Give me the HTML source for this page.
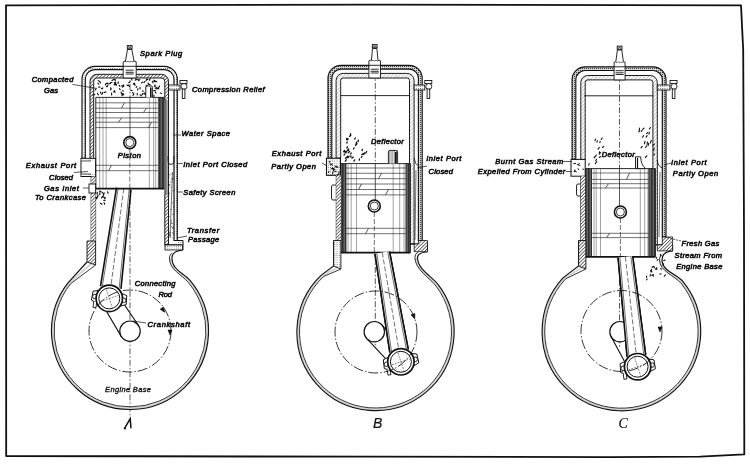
<!DOCTYPE html><html><head><meta charset="utf-8"><style>
html,body{margin:0;padding:0;background:#fff;width:750px;height:464px;overflow:hidden}
svg{display:block;will-change:transform}
text{font-family:"Liberation Sans",sans-serif;font-style:italic;fill:#111;stroke:#111;stroke-width:0.6}
text.big{stroke-width:0.2}
text.thin{stroke-width:0.35}
text.serif{font-family:"Liberation Serif",serif}
</style></head><body>
<svg width="750" height="464" viewBox="0 0 750 464" stroke="#111" fill="none">
<defs stroke="none">
<pattern id="hatch" width="2.4" height="2.4" patternUnits="userSpaceOnUse" patternTransform="rotate(45)"><rect width="2.4" height="2.4" fill="#fff"/><rect width="0.7" height="2.4" fill="#333"/></pattern>
<pattern id="hatchD" width="2" height="2" patternUnits="userSpaceOnUse"><rect width="2" height="2" fill="#ddd"/><rect width="1.1" height="1.1" fill="#444"/></pattern>
<pattern id="hatchW" width="2.6" height="2.6" patternUnits="userSpaceOnUse" patternTransform="rotate(45)"><rect width="2.6" height="2.6" fill="#fff"/><rect width="0.5" height="2.6" fill="#999"/></pattern>
<pattern id="vh" width="1.8" height="2" patternUnits="userSpaceOnUse"><rect width="1.8" height="2" fill="#fff"/><rect width="0.6" height="2" fill="#444"/></pattern>
<pattern id="hatch2" width="2.6" height="2.6" patternUnits="userSpaceOnUse" patternTransform="rotate(-45)"><rect width="2.6" height="2.6" fill="#fff"/><rect width="0.8" height="2.6" fill="#555"/></pattern>
<pattern id="hatchL" width="2.2" height="2.2" patternUnits="userSpaceOnUse"><rect width="2.2" height="2.2" fill="#fff"/><rect width="0.9" height="0.9" fill="#555"/></pattern>
<pattern id="dark" width="1.5" height="2" patternUnits="userSpaceOnUse"><rect width="1.5" height="2" fill="#777"/><rect width="0.8" height="2" fill="#222"/></pattern>
<pattern id="darkL" width="1.5" height="2" patternUnits="userSpaceOnUse"><rect width="1.5" height="2" fill="#bbb"/><rect width="0.7" height="2" fill="#555"/></pattern>
</defs>
<path d="M6 5.3L370 4.6L741 5.3L743.2 50L744 230L744.3 454.3L700 456.6L610 457.1L370 456.7L6.2 456Z" stroke-width="1.8" fill="none" stroke-linejoin="round"/>
<path d="M82 158.4V79.3A13 13 0 0 1 95 66.3H164.3A13 13 0 0 1 177.3 79.3V240.5H174V79.3A9.7 9.7 0 0 0 164.3 69.6H95A9.7 9.7 0 0 0 85.3 79.3V158.4Z" stroke-width="1.15" fill="url(#hatchL)" /><path d="M90 176.5V81.3A7 7 0 0 1 97 74.3H161.5A7 7 0 0 1 168.5 81.3V245H164.8V81.3A3.3 3.3 0 0 0 161.5 78H97A3.3 3.3 0 0 0 93.7 81.3V176.5Z" stroke-width="0.95" fill="url(#hatch)" /><line x1="130" y1="49.3" x2="130" y2="416" stroke-width="0.7" stroke-dasharray="6 2 1.5 2"/><path d="M123.2 78V61.8q1.62 -1.2 3.25 0q1.62 -1.2 3.25 0q1.62 -1.2 3.25 0q1.62 -1.2 3.25 0V78Z" stroke-width="0.9" fill="#fff" /><line x1="123.2" y1="66.3" x2="136.2" y2="66.3" stroke-width="0.9" /><line x1="125.7" y1="70.2" x2="133.7" y2="70.2" stroke-width="0.9" /><line x1="125.7" y1="72.3" x2="133.7" y2="72.3" stroke-width="0.9" /><line x1="125.7" y1="74" x2="133.7" y2="74" stroke-width="0.9" /><path d="M125.4 61.3L127.5 49.5h4.4L134 61.3" stroke-width="0.9" fill="#fff" /><rect x="127.3" y="45.6" width="4.8" height="3.2" stroke-width="0.9" fill="#fff" /><line x1="127.7" y1="46.1" x2="131.7" y2="48.3" stroke-width="0.6" /><line x1="131.7" y1="46.1" x2="127.7" y2="48.3" stroke-width="0.6" /><rect x="168.5" y="85" width="11.5" height="5" stroke-width="0.9" fill="url(#hatchL)" /><rect x="180" y="80.5" width="7" height="3" stroke-width="0.9" fill="#fff" /><circle cx="184" cy="86.5" r="3" stroke-width="0.9" fill="#fff" /><rect x="182.3" y="89" width="2.6" height="9.5" stroke-width="0.9" fill="#fff" /><path d="M110.56 87.75l0.64 1.47M136.74 79.61l1.84 0.08M112.01 82.48l-1.47 0.02M150.96 86.6l-0.49 1.04M137.35 93.26l-0.13 1.74M139.82 79.59l-1.15 1.1M114.84 79.03l-1.34 0.6M143.02 93.44l-1.2 1.5M121.16 92.12l0.34 1.91M153.82 80.16l1.11 0.5M159.67 85.91l-0.5 1.2M128.74 85.06l0.72 1.41M133.94 93.87l-1.04 1.62M152.31 95.35l-0.6 1M152.59 94.9l-1.5 0.46M142.68 82.09l-1.36 0.79M113.73 79.58l-1.78 0.88M100.47 92.11l0.32 1.11M114.34 91.57l-0.96 0.41M135.98 79.26l-0.84 1.03M153.96 95.17l-0.03 2M115.4 79.81l-0.32 0.98M107.82 85.43l-0.39 1.09M97.36 93.25l1.08 1.63M155.02 84.92l0.19 1.51M137.96 88.63l-0.3 1.59M157.99 87.12l0.37 1.68M110.54 83.62l-1.52 0.11M131.52 78.69l0.42 1.52M95.85 88.97l-0.43 0.97M136.85 86.43l-0.72 1.14M142.22 91.05l1.06 0.07M140.13 94.88l1.03 1.03M134.51 83.94l0.54 1.19M119.42 88.63l0.81 1.12M146.63 78.96l-0.37 1.69M115.43 82.28l-1.01 0.72M107.15 85.9l-0.64 0.9M116.23 84.17l-1.25 0.72M152.25 81.38l0.81 1.44M154.23 86.17l0.85 0.73M130.25 81.74l-1.51 1.05M106.89 83.24l-1.35 0.93M148.92 84.37l1.19 0.51M148.09 83.11l0.66 1.26M122.83 85.46l-1.12 0.29M94.81 94.54l-1.85 0.73M123.82 94.65l-1.19 0.28M144.82 92.72l-0.74 1.32M114.01 84.3l0.81 0.7M134.24 83.38l-0.86 0.59M155.49 90.29l-1.84 0.45M155.23 88.31l1.74 0.07M106.1 83.6l-0.75 1.33M122.43 94.46l-0.46 1.26M111.54 93.15l0.13 1.78M118.25 81.85l-0.2 1.81M106.06 91.96l-1.75 0.44M150.09 78.63l-0.73 1.71M97.87 83.11l1.02 1.14M123.05 86.54l-0.76 0.65M98.2 80.66l0.99 0.41M160.29 93.03l1.45 0.4M115.82 83.85l0.74 1.47M134.1 84.63l1.1 0.75M102.85 87.94l-0.87 1.07M99.89 81.54l0.62 1.48M147.33 84.96l-1.32 0.95M123.63 84.83l0.02 1.7M122.88 90.3l0.15 1.24M130.67 90.32l1.39 0.32M123.25 93.45l-1.35 0.27M155.11 91.95l0.99 1.07M102.81 92.32l-0.92 1.65M147.99 89.85l-1.05 1.16M101.46 88.49l1.14 0.02M146.77 79.25l1.05 0.31M153.93 81.55l1.84 0.14M102.69 92.85l-0.95 1.57M158.79 88.34l-0.84 0.61M146.3 87.19l-0.69 0.86M145.06 94.39l1.3 0.25M132.57 92.58l0.85 0.81M111.37 88.97l-1 0.97M119.3 85.24l0.64 1.26M100.12 87.01l-1.41 0.12M144.95 81.23l-0.99 1.45M139.99 87.29l0.08 1.64M155.07 81.04l1.67 0.52M156.37 87.29l0.31 1.69M107.06 83.05l1.29 0.93M115.75 82.45l-1.1 1.61M114.47 90.49l0.5 1.79M133.96 83.04l0.79 0.65M126.87 85.01l1.17 0.7" stroke-width="1.1" fill="none" stroke-linecap="round"/><rect x="95.8" y="97.4" width="68.4" height="91.2" stroke-width="0" fill="#fff" stroke="none"/><line x1="95.8" y1="102.8" x2="164.2" y2="102.8" stroke-width="0.7" stroke-opacity="0.85"/><line x1="95.8" y1="108.2" x2="164.2" y2="108.2" stroke-width="0.7" stroke-opacity="0.85"/><line x1="95.8" y1="112.5" x2="164.2" y2="112.5" stroke-width="0.7" stroke-opacity="0.85"/><line x1="95.8" y1="117.9" x2="164.2" y2="117.9" stroke-width="0.7" stroke-opacity="0.85"/><line x1="95.8" y1="122.2" x2="164.2" y2="122.2" stroke-width="0.7" stroke-opacity="0.85"/><line x1="95.8" y1="127.6" x2="164.2" y2="127.6" stroke-width="0.7" stroke-opacity="0.85"/><line x1="95.8" y1="165.3" x2="164.2" y2="165.3" stroke-width="0.7" stroke-opacity="0.85"/><line x1="95.8" y1="170.7" x2="164.2" y2="170.7" stroke-width="0.7" stroke-opacity="0.85"/><line x1="99.7" y1="97.9" x2="99.7" y2="188.1" stroke-width="0.55" stroke-opacity="0.7"/><line x1="103" y1="97.9" x2="103" y2="188.1" stroke-width="0.55" stroke-opacity="0.7"/><line x1="106.2" y1="97.9" x2="106.2" y2="188.1" stroke-width="0.55" stroke-opacity="0.7"/><line x1="149.3" y1="97.9" x2="149.3" y2="188.1" stroke-width="0.55" stroke-opacity="0.7"/><line x1="153.6" y1="97.9" x2="153.6" y2="188.1" stroke-width="0.55" stroke-opacity="0.7"/><line x1="155.7" y1="97.9" x2="155.7" y2="188.1" stroke-width="0.55" stroke-opacity="0.7"/><line x1="124.5" y1="102.8" x2="121.5" y2="108.2" stroke-width="0.7" /><line x1="146.5" y1="108.2" x2="143.5" y2="112.5" stroke-width="0.7" /><line x1="121.5" y1="117.9" x2="118.5" y2="122.2" stroke-width="0.7" /><line x1="151.5" y1="122.2" x2="148.5" y2="127.6" stroke-width="0.7" /><line x1="111.5" y1="165.3" x2="108.5" y2="170.7" stroke-width="0.7" /><rect x="157.9" y="97.4" width="6.3" height="91.2" stroke-width="0" fill="url(#dark)" stroke="none"/><line x1="95.8" y1="97.4" x2="95.8" y2="188.6" stroke-width="0.9" /><line x1="164.2" y1="97.4" x2="164.2" y2="188.6" stroke-width="0.9" /><line x1="95.8" y1="188.6" x2="164.2" y2="188.6" stroke-width="1.7" /><line x1="95.8" y1="97.4" x2="164.2" y2="97.4" stroke-width="0.9" /><line x1="130" y1="97.4" x2="130" y2="136.6" stroke-width="0.7" /><line x1="129.8" y1="148.6" x2="129.8" y2="188.6" stroke-width="0.6" stroke-dasharray="5 2"/><circle cx="129.8" cy="142.6" r="6" stroke-width="1.6" fill="#fff" /><circle cx="129.8" cy="142.6" r="4" stroke-width="0.8" fill="none" /><path d="M145.8 97.4V87.5Q145.8 86 147.3 86H151.1Q152.6 86 152.6 87.5V97.4" stroke-width="0.9" fill="#fff" /><line x1="150.8" y1="87.5" x2="150.8" y2="97.4" stroke-width="1.6" /><path d="M116.51 187.65L100.52 286.15M130.98 189.55L120.95 288.84" stroke-width="1.6" fill="none" /><path d="M118.29 187.88L102.31 286.39M129.2 189.32L119.16 288.6" stroke-width="0.6" fill="none" /><line x1="123.75" y1="188.6" x2="109.3" y2="298.4" stroke-width="0.6" stroke-dasharray="5 2"/><path d="M101.69 303.2L121.37 336.64M116.91 293.6L138.63 325.76" stroke-width="1.1" fill="none" /><circle cx="130" cy="331.2" r="10.2" stroke-width="1.2" fill="#fff" /><path d="M100.3 290.16L93.1 291.23L91.43 300.08L98.47 304.04Z" stroke-width="1.0" fill="#fff" /><circle cx="94.92" cy="296.51" r="2.3" stroke-width="0.9" fill="#fff" /><path d="M120.13 292.76L126.81 295.66L126.13 304.65L118.3 306.64Z" stroke-width="1.0" fill="#fff" /><circle cx="123.68" cy="300.29" r="2.3" stroke-width="0.9" fill="#fff" /><path d="M93.78 301.4L92.99 307.35L95.97 307.74L96.75 301.79" stroke-width="0.9" fill="#fff" /><circle cx="109.3" cy="298.4" r="13.2" stroke-width="1.7" fill="#fff" /><circle cx="109.3" cy="298.4" r="10.5" stroke-width="1.0" fill="none" /><line x1="100.3" y1="301.4" x2="118.3" y2="295.4" stroke-width="0.5" stroke-dasharray="2 1"/><line x1="106.3" y1="289.4" x2="112.3" y2="307.4" stroke-width="0.5" stroke-dasharray="2 1"/><circle cx="130" cy="331" r="41" stroke-width="0.85" fill="none" stroke-dasharray="10 2 1.5 2"/><path d="M161.5 307.6L163.5 312.6L165.5 307.6Z" stroke-width="0.6" fill="#111" transform="rotate(-35 163.5 310.6)"/><path d="M168 330L170 335L172 330Z" stroke-width="0.6" fill="#111" transform="rotate(0 170 333)"/><path d="M91.3 263.5L69.3 283.3A77.2 77.2 0 1 0 189.09 281.32C182.65 273.66 170.7 270 170.7 258" stroke-width="2.0" fill="none" stroke="#d4d4d4"/><path d="M87 262V262L68 282.85A78.5 78.5 0 1 0 190 280.38C183.55 272.74 172 270 172 258Q172 251 183 250" stroke-width="1.15" fill="none" /><path d="M95.6 265L70.6 283.75A75.9 75.9 0 1 0 188.18 282.26C181.76 274.59 169.4 270 169.4 258Q169.4 254 172.4 253" stroke-width="0.85" fill="none" /><rect x="164.6" y="100" width="3.4" height="95" stroke-width="0" fill="url(#darkL)" stroke="none"/><rect x="81" y="158.4" width="14.6" height="18.1" stroke-width="1.0" fill="#fff" /><rect x="81.5" y="158.9" width="13.6" height="2" stroke-width="0" fill="url(#hatchL)" stroke="none"/><rect x="81.5" y="174" width="13.6" height="2" stroke-width="0" fill="url(#hatchL)" stroke="none"/><line x1="81" y1="161" x2="91" y2="161" stroke-width="0.7" /><line x1="81" y1="174" x2="91" y2="174" stroke-width="0.7" /><path d="M91.2 176.5V241M95.6 176.5V241" stroke-width="0.95" fill="none" /><rect x="91.2" y="176.5" width="4.4" height="64.5" stroke-width="0" fill="url(#hatch)" stroke="none"/><rect x="89" y="184" width="6.6" height="9" stroke-width="0.9" fill="#fff" /><path d="M87 241H95.6V265L87 262Z" stroke-width="0.9" fill="url(#hatch)" /><path d="M171.8 220.44l-0.7 0.52M172.33 232.72l0.63 0.06M173.25 214.13l-0.43 0.14M171.11 186.77l-0.09 0.68M169.06 184.74l0.55 0.66M172.45 180.85l-0.38 0.28M171.78 178.62l0.84 0M169.94 184.65l-0.83 0.05M170.3 235.38l-0.09 0.73M169.92 233.99l-0.5 0.73M173.02 190.32l0.2 0.44M169.66 174.43l0.41 0.57M169.02 216.1l0.27 0.48M172.68 202.69l0.35 0.54M172.17 173.88l-0.41 0.03M172.37 227.45l0.79 0.05M170.65 209.34l0.42 0.01M169.81 234.95l0.63 0.45M173.18 234.06l0.27 0.51M171.36 222.74l0.73 0.26M172.59 228.46l0.87 0.1M169.41 193.17l-0.29 0.81M170.53 232.85l-0.08 0.55M170.43 182.07l0.46 0.12M172.1 237.78l0.37 0.21M173.44 206.28l0.15 0.5M171.67 226.19l0.08 0.6M169.25 232.29l0.64 0.07M172.77 178.88l-0.58 0.65M171.84 223.58l0.58 0.2" stroke-width="0.6" fill="none" stroke-linecap="round"/><line x1="172.5" y1="172" x2="170" y2="238" stroke-width="0.6" /><path d="M164.5 244.8H183V250" stroke-width="1.0" fill="none" /><path d="M173.9 240.5H183V245" stroke-width="1.0" fill="url(#hatchL)" /><rect x="165" y="245" width="17.5" height="5" stroke-width="0.8" fill="url(#hatchL)" /><path d="M168.1 156V161Q168.1 164.5 171 164.5Q173.9 164.5 173.9 161V156" stroke-width="0.9" fill="none" /><path d="M102.56 196.6l1.69 0.79M97.08 198.54l-1.03 0.34M103.65 200.25l1.37 0.18M105.44 197.78l-0.75 0.88M99.86 192.66l-0.04 1.92M104.09 202.61l0.62 1.63M98.22 195.37l-0.9 1.47M102.06 192.32l0.81 0.9M100.37 203.14l1.53 1.11M107.55 191.82l0.55 1.38M97.28 197.37l-1.06 0.32M104.16 192.82l-0.46 1.84M99.44 191.12l1.49 0.4M97.21 192.27l0.02 1.92M102.04 196.97l-0.46 0.99M103.96 193.59l-0.66 1.84" stroke-width="1.2" fill="none" stroke-linecap="round"/><line x1="72.3" y1="84.4" x2="97" y2="88.5" stroke-width="0.7" /><line x1="74" y1="172.5" x2="88" y2="171.5" stroke-width="0.7" /><line x1="83" y1="188" x2="89" y2="188" stroke-width="0.7" /><line x1="177" y1="163.8" x2="183" y2="163.3" stroke-width="0.7" /><line x1="177" y1="192" x2="183" y2="192" stroke-width="0.7" /><line x1="177" y1="238" x2="187" y2="236" stroke-width="0.7" /><line x1="173" y1="135" x2="181" y2="135" stroke-width="0.7" /><line x1="133" y1="321" x2="146" y2="323" stroke-width="0.7" /><path d="M328 158.2V78.3A13 13 0 0 1 341 65.3H409.2A13 13 0 0 1 422.2 78.3V240.5H418.4V78.3A9.2 9.2 0 0 0 409.2 69.1H341A9.2 9.2 0 0 0 331.8 78.3V158.2Z" stroke-width="1.15" fill="url(#hatchD)" /><path d="M336.1 158.2V80.4A7 7 0 0 1 343.1 73.4H407.1A7 7 0 0 1 414.1 80.4V244H409.5V80.4A2.4 2.4 0 0 0 407.1 78H343.1A2.4 2.4 0 0 0 340.7 80.4V158.2Z" stroke-width="0.95" fill="url(#hatchW)" /><line x1="375.3" y1="48.3" x2="375.3" y2="348" stroke-width="0.7" stroke-dasharray="6 2 1.5 2"/><path d="M368.9 78V60.8q1.45 -1.2 2.9 0q1.45 -1.2 2.9 0q1.45 -1.2 2.9 0q1.45 -1.2 2.9 0V78Z" stroke-width="0.9" fill="#fff" /><line x1="368.9" y1="65.3" x2="380.5" y2="65.3" stroke-width="0.9" /><line x1="370.7" y1="69.2" x2="378.7" y2="69.2" stroke-width="0.9" /><line x1="370.7" y1="71.3" x2="378.7" y2="71.3" stroke-width="0.9" /><line x1="370.7" y1="73" x2="378.7" y2="73" stroke-width="0.9" /><path d="M371.4 60.3L372.5 48.5h4.4L378 60.3" stroke-width="0.9" fill="#fff" /><rect x="372.3" y="44.6" width="4.8" height="3.2" stroke-width="0.9" fill="#fff" /><line x1="372.7" y1="45.1" x2="376.7" y2="47.3" stroke-width="0.6" /><line x1="376.7" y1="45.1" x2="372.7" y2="47.3" stroke-width="0.6" /><rect x="414.1" y="85" width="10.7" height="5" stroke-width="0.9" fill="url(#hatchL)" /><rect x="424.8" y="80.5" width="7" height="3" stroke-width="0.9" fill="#fff" /><circle cx="428.8" cy="86.5" r="3" stroke-width="0.9" fill="#fff" /><rect x="427.1" y="89" width="2.6" height="9.5" stroke-width="0.9" fill="#fff" /><rect x="340.4" y="163.6" width="70" height="89" stroke-width="0" fill="#fff" stroke="none"/><line x1="340.4" y1="168" x2="410.4" y2="168" stroke-width="0.7" stroke-opacity="0.85"/><line x1="340.4" y1="173.3" x2="410.4" y2="173.3" stroke-width="0.7" stroke-opacity="0.85"/><line x1="340.4" y1="178.7" x2="410.4" y2="178.7" stroke-width="0.7" stroke-opacity="0.85"/><line x1="340.4" y1="184" x2="410.4" y2="184" stroke-width="0.7" stroke-opacity="0.85"/><line x1="340.4" y1="189.5" x2="410.4" y2="189.5" stroke-width="0.7" stroke-opacity="0.85"/><line x1="340.4" y1="194.9" x2="410.4" y2="194.9" stroke-width="0.7" stroke-opacity="0.85"/><line x1="340.4" y1="228.3" x2="410.4" y2="228.3" stroke-width="0.7" stroke-opacity="0.85"/><line x1="340.4" y1="233.7" x2="410.4" y2="233.7" stroke-width="0.7" stroke-opacity="0.85"/><line x1="348" y1="164.1" x2="348" y2="252.1" stroke-width="0.55" stroke-opacity="0.7"/><line x1="351.2" y1="164.1" x2="351.2" y2="252.1" stroke-width="0.55" stroke-opacity="0.7"/><line x1="356.5" y1="164.1" x2="356.5" y2="252.1" stroke-width="0.55" stroke-opacity="0.7"/><line x1="393.2" y1="164.1" x2="393.2" y2="252.1" stroke-width="0.55" stroke-opacity="0.7"/><line x1="399.7" y1="164.1" x2="399.7" y2="252.1" stroke-width="0.55" stroke-opacity="0.7"/><line x1="404" y1="164.1" x2="404" y2="252.1" stroke-width="0.55" stroke-opacity="0.7"/><line x1="381.5" y1="173.3" x2="378.5" y2="178.7" stroke-width="0.7" /><line x1="361.5" y1="184" x2="358.5" y2="189.5" stroke-width="0.7" /><line x1="388.5" y1="189.5" x2="385.5" y2="194.9" stroke-width="0.7" /><line x1="368.5" y1="228.3" x2="365.5" y2="233.7" stroke-width="0.7" /><rect x="340.4" y="163.6" width="6.1" height="89" stroke-width="0" fill="url(#dark)" stroke="none"/><rect x="405.5" y="163.6" width="4.9" height="89" stroke-width="0" fill="url(#dark)" stroke="none"/><line x1="340.4" y1="163.6" x2="340.4" y2="252.6" stroke-width="0.9" /><line x1="410.4" y1="163.6" x2="410.4" y2="252.6" stroke-width="0.9" /><line x1="340.4" y1="252.6" x2="410.4" y2="252.6" stroke-width="1.7" /><line x1="340.4" y1="163.6" x2="410.4" y2="163.6" stroke-width="0.9" /><line x1="375.3" y1="163.6" x2="375.3" y2="200" stroke-width="0.7" /><line x1="374.3" y1="212" x2="374.3" y2="252.6" stroke-width="0.6" stroke-dasharray="5 2"/><circle cx="374.3" cy="206" r="6" stroke-width="1.6" fill="#fff" /><circle cx="374.3" cy="206" r="4" stroke-width="0.8" fill="none" /><path d="M388.4 163.6V151.9Q388.4 150.4 389.9 150.4H396.1Q397.6 150.4 397.6 151.9V163.6" stroke-width="0.9" fill="url(#vh)" /><line x1="395.8" y1="151.9" x2="395.8" y2="163.6" stroke-width="1.6" /><path d="M375.06 253.83L389.87 352.46M389.45 251.37L408.21 349.33" stroke-width="1.6" fill="none" /><path d="M376.83 253.53L391.64 352.16M387.68 251.67L406.43 349.63" stroke-width="0.6" fill="none" /><line x1="382.26" y1="252.6" x2="400.9" y2="361.8" stroke-width="0.6" stroke-dasharray="5 2"/><path d="M407.64 355.84L381.94 324.95M394.16 367.76L366.66 338.45" stroke-width="1.1" fill="none" /><circle cx="374.3" cy="331.7" r="10.2" stroke-width="1.2" fill="#fff" /><path d="M375.06 253.83L389.87 352.46L408.21 349.33L389.45 251.37Z" stroke-width="0" fill="#fff" stroke="none"/><path d="M375.06 253.83L389.87 352.46M389.45 251.37L408.21 349.33" stroke-width="1.6" fill="none" /><path d="M376.83 253.53L391.64 352.16M387.68 251.67L406.43 349.63" stroke-width="0.6" fill="none" /><line x1="382.26" y1="252.6" x2="400.9" y2="361.8" stroke-width="0.6" stroke-dasharray="5 2"/><path d="M389.86 356.58L383.3 359.73L384.32 368.69L392.22 370.38Z" stroke-width="1.0" fill="#fff" /><circle cx="386.61" cy="364.24" r="2.3" stroke-width="0.9" fill="#fff" /><path d="M409.58 353.22L416.82 354.01L418.82 362.8L411.94 367.02Z" stroke-width="1.0" fill="#fff" /><circle cx="415.19" cy="359.36" r="2.3" stroke-width="0.9" fill="#fff" /><path d="M386.96 369.25L387.97 375.17L390.92 374.66L389.91 368.75" stroke-width="0.9" fill="#fff" /><circle cx="400.9" cy="361.8" r="13.2" stroke-width="1.7" fill="#fff" /><circle cx="400.9" cy="361.8" r="10.5" stroke-width="1.0" fill="none" /><line x1="391.9" y1="364.8" x2="409.9" y2="358.8" stroke-width="0.5" stroke-dasharray="2 1"/><line x1="397.9" y1="352.8" x2="403.9" y2="370.8" stroke-width="0.5" stroke-dasharray="2 1"/><circle cx="376" cy="332" r="41" stroke-width="0.85" fill="none" stroke-dasharray="10 2 1.5 2"/><path d="M412 314L414 319L416 314Z" stroke-width="0.6" fill="#111" transform="rotate(-20 414 317)"/><path d="M337.25 267.5L322.3 275.92A77.3 77.3 0 1 0 437.09 285.29C431.05 277.32 416.2 269.5 416.2 257.5" stroke-width="2.0" fill="none" stroke="#d4d4d4"/><path d="M333.6 240.5V266L321 275.36A78.6 78.6 0 1 0 438 284.34C431.94 276.39 417.5 269.5 417.5 257.5Q417.5 252.7 427.5 251.7" stroke-width="1.15" fill="none" /><path d="M340.9 269L323.6 276.48A76 76 0 1 0 436.18 286.24C430.16 278.26 414.9 269.5 414.9 257.5Q414.9 253.5 417.9 252.5" stroke-width="0.85" fill="none" /><line x1="340.7" y1="95.6" x2="410" y2="95.6" stroke-width="0.9" /><rect x="326.5" y="158.2" width="14" height="17.1" stroke-width="1.1" fill="url(#hatchL)" /><path d="M332.98 168.28l-1.42 0.35M333.59 168.64l1.26 0.83M334.93 171.31l1.25 0.38M329 171.53l-0.59 0.86M338.8 173.54l-0.75 1.43M329.73 161.2l-0.09 1.06M330.09 164.15l1.46 0.14M332.85 171.95l-0.1 1.64M333.5 169.61l0.17 1.27M338.97 173.94l-1.5 0.82M331.47 163.99l0.66 0.84M336.43 166.21l-1.23 0.64M338.54 172.02l1.21 0M338.01 167.11l-1.39 0.09" stroke-width="1.1" fill="none" stroke-linecap="round"/><path d="M336.3 175.3V240.5M340.9 175.3V240.5" stroke-width="0.95" fill="none" /><rect x="336.3" y="175.3" width="4.6" height="65.2" stroke-width="0" fill="url(#hatch)" stroke="none"/><path d="M336 185H333Q331.5 185 331.5 187V198Q331.5 200 333 200H336" stroke-width="0.9" fill="none" /><path d="M333.6 240.5H340.9V269L333.6 266Z" stroke-width="0.9" fill="url(#hatchL)" /><path d="M410 244H427.5V251.7" stroke-width="1.0" fill="none" /><path d="M418.4 240.5H427.5V251.7H414.2V244H418.4Z" stroke-width="0.8" fill="url(#hatch)" /><path d="M414.2 158Q414.5 164 418.4 166" stroke-width="0.9" fill="none" /><line x1="416" y1="170" x2="415" y2="240" stroke-width="0.6" /><path d="M348.22 152.87l1.24 -1.37M346.46 139.69l0.31 -1.19M354.75 139.2l0.54 -1.33M362.1 150.64l0.17 -1.26M345.52 158.27l1.36 -1.19M361.83 154.6l1.48 -1.01M348.16 157.65l0.93 -1.49M355.54 145.46l0.62 -1.29M349.53 136.4l1.36 -1.18M365.66 153.04l1.02 -1.42M345.24 152.63l0.58 -1.02M346.86 148.16l0.5 -1.37M356.53 144.48l0.35 -1.45M347.65 139.83l0.4 -1.31M343.76 151.89l1.15 -0.78M359.25 160.06l0.18 -1.13M361.35 157.31l0.74 -0.89M351.92 158.18l1.43 -1.09M346.87 157.76l0.76 -1.54M345.29 161.17l1.06 -1.36M347.08 150.9l0.95 -1.27M350.62 154.1l0.54 -1.18M345.95 152.84l0.27 -1.2M343.66 151.66l0.9 -1.25M350.23 135.69l0.25 -1.98M348.45 150.32l0.28 -1.44M350.8 157.2l0.17 -1.32M353.92 161.12l0.82 -1.23M358.07 141.6l0.22 -1.48M363.85 154.41l0.58 -1.58M356.11 143.31l0.43 -1.21M346.89 143.17l0.22 -1.38M344.08 154.99l0.62 -0.79M353.54 149.08l0.53 -1.18" stroke-width="1.3" fill="none" stroke-linecap="round"/><line x1="322" y1="163" x2="327" y2="166" stroke-width="0.7" /><line x1="417" y1="168" x2="427" y2="166" stroke-width="0.7" /><path d="M572.1 159.4V79.8A13 13 0 0 1 585.1 66.8H653A13 13 0 0 1 666 79.8V237H662.3V79.8A9.3 9.3 0 0 0 653 70.5H585.1A9.3 9.3 0 0 0 575.8 79.8V159.4Z" stroke-width="1.15" fill="url(#hatchD)" /><path d="M580.8 159.4V82.5A7 7 0 0 1 587.8 75.5H650.3A7 7 0 0 1 657.3 82.5V244.8H652.9V82.5A2.6 2.6 0 0 0 650.3 79.9H587.8A2.6 2.6 0 0 0 585.2 82.5V159.4Z" stroke-width="0.95" fill="url(#hatchW)" /><line x1="619.5" y1="49.8" x2="619.5" y2="348" stroke-width="0.7" stroke-dasharray="6 2 1.5 2"/><path d="M614.1 79.9V62.3q1.38 -1.2 2.75 0q1.38 -1.2 2.75 0q1.38 -1.2 2.75 0q1.38 -1.2 2.75 0V79.9Z" stroke-width="0.9" fill="#fff" /><line x1="614.1" y1="66.8" x2="625.1" y2="66.8" stroke-width="0.9" /><line x1="615.6" y1="70.7" x2="623.6" y2="70.7" stroke-width="0.9" /><line x1="615.6" y1="72.8" x2="623.6" y2="72.8" stroke-width="0.9" /><line x1="615.6" y1="74.5" x2="623.6" y2="74.5" stroke-width="0.9" /><path d="M615.8 61.8L617.4 50h4.4L623.4 61.8" stroke-width="0.9" fill="#fff" /><rect x="617.2" y="46.1" width="4.8" height="3.2" stroke-width="0.9" fill="#fff" /><line x1="617.6" y1="46.6" x2="621.6" y2="48.8" stroke-width="0.6" /><line x1="621.6" y1="46.6" x2="617.6" y2="48.8" stroke-width="0.6" /><rect x="657.3" y="85" width="12.7" height="5" stroke-width="0.9" fill="url(#hatchL)" /><rect x="670" y="80.5" width="7" height="3" stroke-width="0.9" fill="#fff" /><circle cx="674" cy="86.5" r="3" stroke-width="0.9" fill="#fff" /><rect x="672.3" y="89" width="2.6" height="9.5" stroke-width="0.9" fill="#fff" /><rect x="585.4" y="168.6" width="70" height="88.2" stroke-width="0" fill="#fff" stroke="none"/><line x1="585.4" y1="173" x2="655.4" y2="173" stroke-width="0.7" stroke-opacity="0.85"/><line x1="585.4" y1="179.4" x2="655.4" y2="179.4" stroke-width="0.7" stroke-opacity="0.85"/><line x1="585.4" y1="183.7" x2="655.4" y2="183.7" stroke-width="0.7" stroke-opacity="0.85"/><line x1="585.4" y1="188" x2="655.4" y2="188" stroke-width="0.7" stroke-opacity="0.85"/><line x1="585.4" y1="233.3" x2="655.4" y2="233.3" stroke-width="0.7" stroke-opacity="0.85"/><line x1="585.4" y1="237.6" x2="655.4" y2="237.6" stroke-width="0.7" stroke-opacity="0.85"/><line x1="594" y1="169.1" x2="594" y2="256.3" stroke-width="0.55" stroke-opacity="0.7"/><line x1="596.2" y1="169.1" x2="596.2" y2="256.3" stroke-width="0.55" stroke-opacity="0.7"/><line x1="600.5" y1="169.1" x2="600.5" y2="256.3" stroke-width="0.55" stroke-opacity="0.7"/><line x1="640.3" y1="169.1" x2="640.3" y2="256.3" stroke-width="0.55" stroke-opacity="0.7"/><line x1="644.7" y1="169.1" x2="644.7" y2="256.3" stroke-width="0.55" stroke-opacity="0.7"/><line x1="647.9" y1="169.1" x2="647.9" y2="256.3" stroke-width="0.55" stroke-opacity="0.7"/><line x1="629.5" y1="173" x2="626.5" y2="179.4" stroke-width="0.7" /><line x1="608.5" y1="183.7" x2="605.5" y2="188" stroke-width="0.7" /><line x1="609.5" y1="233.3" x2="606.5" y2="237.6" stroke-width="0.7" /><rect x="585.4" y="168.6" width="6.6" height="88.2" stroke-width="0" fill="url(#dark)" stroke="none"/><rect x="648.4" y="168.6" width="7" height="88.2" stroke-width="0" fill="url(#dark)" stroke="none"/><line x1="585.4" y1="168.6" x2="585.4" y2="256.8" stroke-width="0.9" /><line x1="655.4" y1="168.6" x2="655.4" y2="256.8" stroke-width="0.9" /><line x1="585.4" y1="256.8" x2="655.4" y2="256.8" stroke-width="1.7" /><line x1="585.4" y1="168.6" x2="655.4" y2="168.6" stroke-width="0.9" /><line x1="619.5" y1="168.6" x2="619.5" y2="206" stroke-width="0.7" /><line x1="620.4" y1="218" x2="620.4" y2="256.8" stroke-width="0.6" stroke-dasharray="5 2"/><circle cx="620.4" cy="212" r="6" stroke-width="1.6" fill="#fff" /><circle cx="620.4" cy="212" r="4" stroke-width="0.8" fill="none" /><path d="M635.5 168.6V156.8H640.7Q640.7 164.6 645.7 168.6Z" stroke-width="0.9" fill="#fff" /><line x1="637.5" y1="157.8" x2="637.5" y2="168.6" stroke-width="1.2" /><path d="M618.13 257.61L627.15 356.9M632.64 255.99L645.64 354.84" stroke-width="1.6" fill="none" /><path d="M619.91 257.41L628.94 356.7M630.85 256.19L643.85 355.04" stroke-width="0.6" fill="none" /><line x1="625.38" y1="256.8" x2="637.6" y2="366.7" stroke-width="0.6" stroke-dasharray="5 2"/><path d="M645.64 362.66L629.11 327.12M629.56 370.74L610.89 336.28" stroke-width="1.1" fill="none" /><circle cx="620" cy="331.7" r="10.2" stroke-width="1.2" fill="#fff" /><path d="M618.13 257.61L627.15 356.9L645.64 354.84L632.64 255.99Z" stroke-width="0" fill="#fff" stroke="none"/><path d="M618.13 257.61L627.15 356.9M632.64 255.99L645.64 354.84" stroke-width="1.6" fill="none" /><path d="M619.91 257.41L628.94 356.7M630.85 256.19L643.85 355.04" stroke-width="0.6" fill="none" /><line x1="625.38" y1="256.8" x2="637.6" y2="366.7" stroke-width="0.6" stroke-dasharray="5 2"/><path d="M626.89 360.85L620.15 363.61L620.65 372.61L628.43 374.76Z" stroke-width="1.0" fill="#fff" /><circle cx="623.19" cy="368.3" r="2.3" stroke-width="0.9" fill="#fff" /><path d="M646.77 358.64L653.94 359.85L655.43 368.74L648.31 372.55Z" stroke-width="1.0" fill="#fff" /><circle cx="652.01" cy="365.1" r="2.3" stroke-width="0.9" fill="#fff" /><path d="M623.24 373.33L623.91 379.29L626.89 378.96L626.23 373" stroke-width="0.9" fill="#fff" /><circle cx="637.6" cy="366.7" r="13.2" stroke-width="1.7" fill="#fff" /><circle cx="637.6" cy="366.7" r="10.5" stroke-width="1.0" fill="none" /><line x1="628.6" y1="369.7" x2="646.6" y2="363.7" stroke-width="0.5" stroke-dasharray="2 1"/><line x1="634.6" y1="357.7" x2="640.6" y2="375.7" stroke-width="0.5" stroke-dasharray="2 1"/><circle cx="621.5" cy="331" r="40.5" stroke-width="0.85" fill="none" stroke-dasharray="10 2 1.5 2"/><path d="M658 327L660 332L662 327Z" stroke-width="0.6" fill="#111" transform="rotate(0 660 330)"/><path d="M582.25 267.5L564.3 278.36A78 78 0 1 0 682.09 282.5C675.81 274.72 660.7 271.5 660.7 259.5" stroke-width="2.0" fill="none" stroke="#d4d4d4"/><path d="M578.6 240.5V266L563 277.85A79.3 79.3 0 1 0 683 281.56C676.7 273.79 662 271.5 662 259.5Q662 251.9 672.6 250.9" stroke-width="1.15" fill="none" /><path d="M585.9 269L565.6 278.88A76.7 76.7 0 1 0 681.18 283.45C674.91 275.65 659.4 271.5 659.4 259.5Q659.4 255.5 662.4 254.5" stroke-width="0.85" fill="none" /><line x1="584.1" y1="95.8" x2="653.5" y2="95.8" stroke-width="0.9" /><rect x="571" y="159.4" width="14.2" height="16.8" stroke-width="1.0" fill="#fff" /><path d="M574.81 169.9l-0.57 1.25M575.38 170.93l-1.16 0.8M578.56 165.36l1.25 0.01M579.44 163.69l-0.86 0.65M575.56 163.42l-1.69 0.01M582.63 169.16l1.19 0.13M578.47 164.16l-1.23 0.19M574.7 171.18l1.77 0.73M577.98 168.52l0.65 1.22M575.06 163.37l-0.99 0.44" stroke-width="0.9" fill="none" stroke-linecap="round"/><path d="M580.7 176.2V240.5M585.2 176.2V240.5" stroke-width="0.95" fill="none" /><rect x="580.7" y="176.2" width="4.5" height="64.3" stroke-width="0" fill="url(#hatch)" stroke="none"/><path d="M580.7 184H578Q576.5 184 576.5 186V194Q576.5 196 578 196H580.7" stroke-width="0.9" fill="none" /><path d="M578.6 240.5H585.9V269L578.6 266Z" stroke-width="0.9" fill="url(#hatch)" /><path d="M656 244.8H672.6V250.9" stroke-width="1.0" fill="none" /><path d="M662.3 237H672.6V250.9H657.3V244.8H662.3Z" stroke-width="0.8" fill="url(#hatch)" /><path d="M657.3 160Q657.5 166 662.3 168" stroke-width="0.9" fill="none" /><line x1="660" y1="172" x2="659" y2="237" stroke-width="0.6" /><path d="M601.17 139.42l1.09 -1.42M595.01 140.78l0.53 -1.74M598.07 149.22l1.22 -1.86M599.31 154.08l1.35 -1.57M602.5 147.52l1.24 -1.19M595.72 156.16l0.52 -1.21M594.06 157.82l1.11 -1.45M596.92 142.28l0.46 -1.59M599.87 142.67l0.3 -1.3M595.74 160.8l0.7 -1.57M599.22 152.92l0.47 -1.27M599.32 157.51l1.17 -0.99M595.27 163.64l1.54 -2M588.84 165.28l0.3 -1.76" stroke-width="1.1" fill="none" stroke-linecap="round"/><path d="M653.69 150.46l0.4 -2.5M642.6 137.24l0.97 -1.77M652.98 145.49l1.54 -1.39M644.46 143.78l0.55 -2.5M649.45 128.93l1.07 -1.42M641.41 131.44l0.66 -1.12M648.14 145.6l0.57 -2.36M638.73 131.88l1.14 -0.99M645.64 147.38l0.93 -1.65M647.09 144.31l0.4 -2.31M645.35 157.58l1.17 -1.42M646.6 133.79l1.06 -1.32M639.16 130.2l0.44 -2.11M653.88 155.22l0.44 -1.34M641.01 147.86l1.23 -1.52M646.13 137.15l0.99 -1.55M650.26 142.93l1.1 -2.33M645.51 157.22l1.37 -1.45M648.98 134.18l0.3 -2.22M642.66 129.44l1.52 -1.34" stroke-width="1.1" fill="none" stroke-linecap="round"/><path d="M659.92 274.24l1.04 -0.59M646.5 277.43l0.16 -1.36M663.74 260.77l1.24 -0.82M646.64 279.86l0.5 -0.96M664.29 276.15l1.11 -1.23M650.82 271.92l0.21 -1.64M661.2 269.63l-0.32 -1.35M651.95 275.48l1.51 -0.93M657.2 260.42l0.8 -0.98M662.93 265.01l0.66 -1.25M652.08 267.38l1.01 -0.9M653.3 276.32l-0.15 -1.35M656.88 269.45l-0.22 -1.75M656.25 258.38l0.14 -1.05M650.85 270.45l0.79 -1.03M655.66 269.34l0.91 -1.67M649.98 276.11l0.83 -1.7M660.76 256.1l-0.52 -1.72M651.81 271.97l-0.36 -1.52M654.44 267.98l-0.69 -1.76" stroke-width="1.1" fill="none" stroke-linecap="round"/><path d="M563 161.5H572M566 171.5H572" stroke-width="0.7" fill="none" /><path d="M681 241L665 237" stroke-width="0.7" fill="none" stroke-dasharray="2 1"/><line x1="664" y1="165" x2="671" y2="163" stroke-width="0.7" /><text x="140" y="55.6" font-size="7.5" textLength="42.2" lengthAdjust="spacing" class="" >Spark Plug</text><text x="31.7" y="81.5" font-size="7.5" textLength="41.6" lengthAdjust="spacing" class="" >Compacted</text><text x="44" y="93.3" font-size="7.5" textLength="13.9" lengthAdjust="spacing" class="" >Gas</text><text x="192" y="92.4" font-size="7.5" textLength="72.6" lengthAdjust="spacing" class="" >Compression Relief</text><text x="181.6" y="136" font-size="7.5" textLength="48.4" lengthAdjust="spacing" class="" >Water Space</text><text x="117.7" y="157.9" font-size="7.5" textLength="23.3" lengthAdjust="spacing" class="" >Piston</text><text x="25.8" y="168.1" font-size="7.5" textLength="50.4" lengthAdjust="spacing" class="" >Exhaust Port</text><text x="49.1" y="179.7" font-size="7.5" textLength="23.9" lengthAdjust="spacing" class="" >Closed</text><text x="43.9" y="190.7" font-size="7.5" textLength="34.9" lengthAdjust="spacing" class="" >Gas Inlet</text><text x="34.9" y="200.1" font-size="7.5" textLength="51" lengthAdjust="spacing" class="" >To Crankcase</text><text x="183.2" y="167.2" font-size="7.5" textLength="64" lengthAdjust="spacing" class="" >Inlet Port Closed</text><text x="183.2" y="194.8" font-size="7.5" textLength="52.1" lengthAdjust="spacing" class="" >Safety Screen</text><text x="186.9" y="232.5" font-size="7.5" textLength="32.3" lengthAdjust="spacing" class="" >Transfer</text><text x="187.9" y="241.6" font-size="7.5" textLength="31.3" lengthAdjust="spacing" class="" >Passage</text><text x="134.8" y="285.7" font-size="7.5" textLength="40.6" lengthAdjust="spacing" class="" >Connecting</text><text x="158.6" y="297.3" font-size="7.5" textLength="13.3" lengthAdjust="spacing" class="" >Rod</text><text x="147.4" y="326.7" font-size="7.5" textLength="42.7" lengthAdjust="spacing" class="" >Crankshaft</text><text x="105.1" y="391.8" font-size="7.5" textLength="45.8" lengthAdjust="spacing" class="thin" >Engine Base</text><text x="271.7" y="156.1" font-size="7.5" textLength="49.6" lengthAdjust="spacing" class="" >Exhaust Port</text><text x="271.3" y="168.6" font-size="7.5" textLength="44.6" lengthAdjust="spacing" class="" >Partly Open</text><text x="371" y="144.4" font-size="7.5" textLength="32.8" lengthAdjust="spacing" class="" >Deflector</text><text x="426.2" y="160.7" font-size="7.5" textLength="35.2" lengthAdjust="spacing" class="" >Inlet Port</text><text x="428.6" y="173.5" font-size="7.5" textLength="24.3" lengthAdjust="spacing" class="" >Closed</text><text x="495.3" y="164" font-size="7.5" textLength="68" lengthAdjust="spacing" class="" >Burnt Gas Stream</text><text x="477.7" y="174" font-size="7.5" textLength="87.6" lengthAdjust="spacing" class="" >Expelled From Cylinder</text><text x="601.7" y="157.1" font-size="7.5" textLength="33" lengthAdjust="spacing" class="" >Deflector</text><text x="671" y="165" font-size="7.5" textLength="35.6" lengthAdjust="spacing" class="" >Inlet Port</text><text x="672.8" y="175.8" font-size="7.5" textLength="45.4" lengthAdjust="spacing" class="" >Partly Open</text><text x="681.6" y="245.6" font-size="7.5" textLength="37.7" lengthAdjust="spacing" class="" >Fresh Gas</text><text x="674.6" y="258.2" font-size="7.5" textLength="47.4" lengthAdjust="spacing" class="" >Stream From</text><text x="676.2" y="269" font-size="7.5" textLength="46.1" lengthAdjust="spacing" class="" >Engine Base</text><path d="M124.6 428.4L130.2 418.6L131 428.4M123.8 428.5H126" stroke-width="1.5" fill="none" /><text x="373.1" y="427.8" font-size="14" textLength="7.8" lengthAdjust="spacing" class="big" >B</text><text x="618.5" y="427.8" font-size="14" textLength="8.2" lengthAdjust="spacing" class="big serif" >C</text>
</svg></body></html>
